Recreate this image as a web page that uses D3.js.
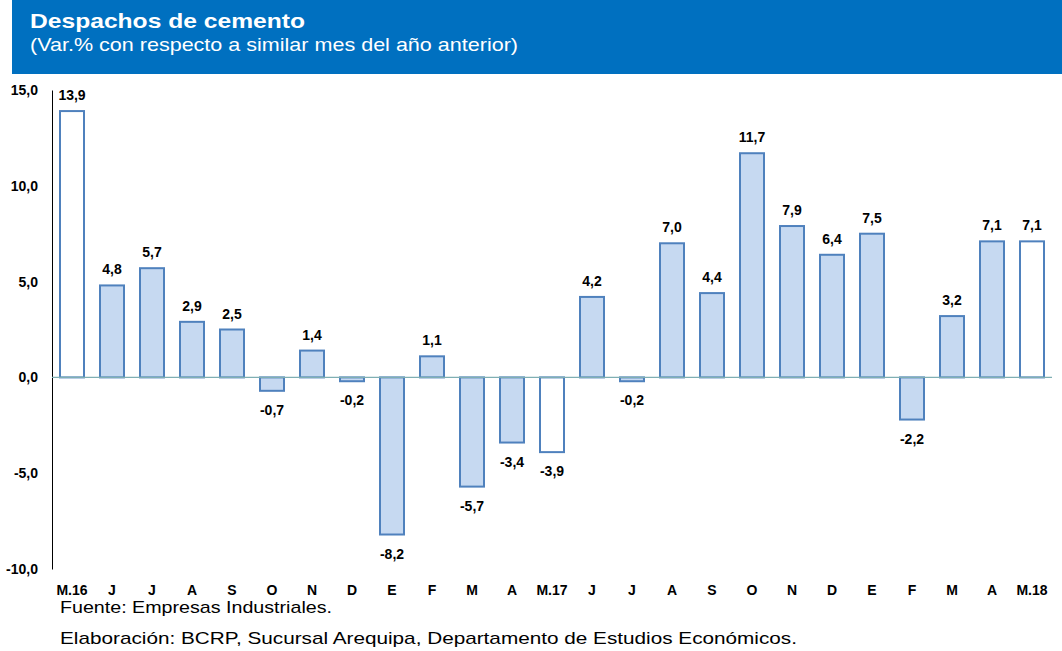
<!DOCTYPE html>
<html>
<head>
<meta charset="utf-8">
<script src="https://cdn.jsdelivr.net/npm/d3@7"></script>
<style>
  html, body { margin: 0; padding: 0; background: #fff; }
  svg { display: block; font-family: "Liberation Sans", Arial, sans-serif; }
</style>
</head>
<body>
<svg id="chart" width="1062" height="651"></svg>
<script>
const months = ["M.16", "J", "J", "A", "S", "O", "N", "D", "E", "F", "M", "A", "M.17",
  "J", "J", "A", "S", "O", "N", "D", "E", "F", "M", "A", "M.18"];
const values = [13.9, 4.8, 5.7, 2.9, 2.5, -0.7, 1.4, -0.2, -8.2, 1.1, -5.7, -3.4, -3.9,
  4.2, -0.2, 7.0, 4.4, 11.7, 7.9, 6.4, 7.5, -2.2, 3.2, 7.1, 7.1];
const hollowMonths = ["M.16", "M.17", "M.18"];
const yTicks = [-10, -5, 0, 5, 10, 15];

const width = 1062;
const axisX = 52;
const plotRight = 1052;
const blue = "#0070C0";
const barFill = "#C6D9F1";
const barStroke = "#4F81BD";

const svg = d3.select("#chart");
const fmt = (v) => d3.format(".1f")(v).replace(".", ",").replace("−", "-");

// header band
svg.append("rect")
  .attr("x", 12).attr("y", 0)
  .attr("width", width - 12).attr("height", 74)
  .attr("fill", blue);

svg.append("text")
  .attr("x", 30).attr("y", 28)
  .attr("fill", "#fff")
  .attr("font-size", 21)
  .attr("font-weight", "bold")
  .attr("textLength", 275)
  .attr("lengthAdjust", "spacingAndGlyphs")
  .text("Despachos de cemento");

svg.append("text")
  .attr("x", 30).attr("y", 51)
  .attr("fill", "#fff")
  .attr("font-size", 19)
  .attr("textLength", 488)
  .attr("lengthAdjust", "spacingAndGlyphs")
  .text("(Var.% con respecto a similar mes del año anterior)");

const data = months.map((m, i) => ({ i, month: m, value: values[i] }));

const x = d3.scaleBand()
  .domain(data.map((d) => d.i))
  .range([axisX, plotRight])
  .paddingInner(0.4)
  .paddingOuter(0.2);

const y = d3.scaleLinear()
  .domain([-10, 15])
  .range([569, 90]);

// y axis
const yAxis = svg.append("g")
  .attr("transform", `translate(${axisX},0)`)
  .call(d3.axisLeft(y).tickValues(yTicks).tickSize(0).tickPadding(14).tickFormat(fmt));
yAxis.select(".domain").attr("stroke", "#000").attr("stroke-width", 1);
yAxis.selectAll("text")
  .attr("font-size", 14)
  .attr("font-weight", "bold")
  .attr("fill", "#000")
  .attr("font-family", "Liberation Sans, Arial, sans-serif");

// bars
svg.append("g")
  .selectAll("rect")
  .data(data)
  .join("rect")
  .attr("x", (d) => x(d.i))
  .attr("width", x.bandwidth())
  .attr("y", (d) => y(Math.max(0, d.value)))
  .attr("height", (d) => Math.abs(y(d.value) - y(0)))
  .attr("fill", (d) => hollowMonths.includes(d.month) ? "#fff" : barFill)
  .attr("stroke", barStroke)
  .attr("stroke-width", 2);

// zero line
svg.append("line")
  .attr("x1", axisX).attr("x2", plotRight)
  .attr("y1", y(0)).attr("y2", y(0))
  .attr("stroke", "#7FAFB3")
  .attr("stroke-width", 1.2);

// value labels
svg.append("g")
  .selectAll("text")
  .data(data)
  .join("text")
  .attr("x", (d) => x(d.i) + x.bandwidth() / 2)
  .attr("y", (d) => d.value >= 0 ? y(d.value) - 11 : y(d.value) + 24)
  .attr("text-anchor", "middle")
  .attr("font-size", 14)
  .attr("font-weight", "bold")
  .attr("fill", "#000")
  .text((d) => fmt(d.value));

// month labels
svg.append("g")
  .selectAll("text")
  .data(data)
  .join("text")
  .attr("x", (d) => x(d.i) + x.bandwidth() / 2)
  .attr("y", 595)
  .attr("text-anchor", "middle")
  .attr("font-size", 14)
  .attr("font-weight", "bold")
  .attr("fill", "#000")
  .text((d) => d.month);

// footer
svg.append("text")
  .attr("x", 60).attr("y", 613)
  .attr("font-size", 17)
  .attr("fill", "#000")
  .attr("textLength", 272)
  .attr("lengthAdjust", "spacingAndGlyphs")
  .text("Fuente: Empresas Industriales.");

svg.append("text")
  .attr("x", 60).attr("y", 644)
  .attr("font-size", 17)
  .attr("fill", "#000")
  .attr("textLength", 737)
  .attr("lengthAdjust", "spacingAndGlyphs")
  .text("Elaboración: BCRP, Sucursal Arequipa, Departamento de Estudios Económicos.");
</script>
</body>
</html>
